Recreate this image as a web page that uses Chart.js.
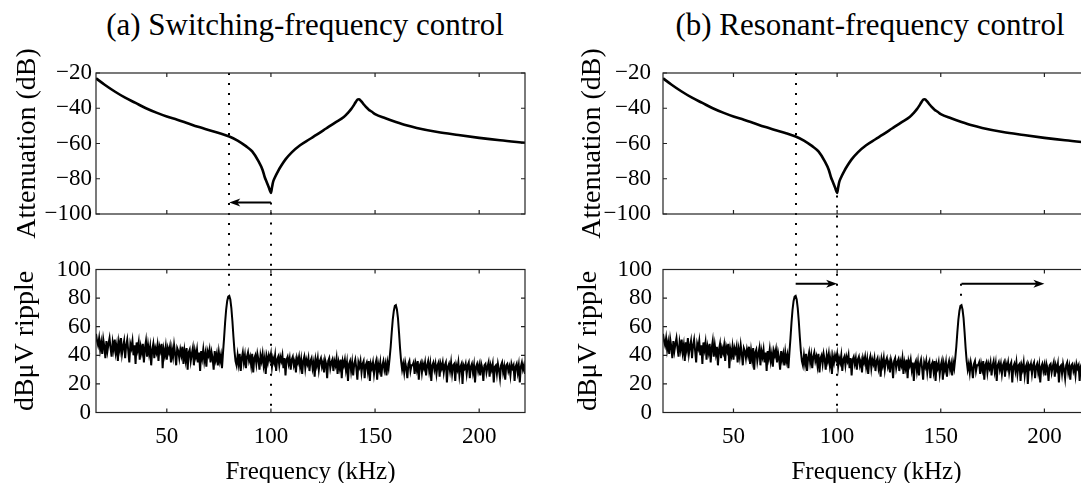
<!DOCTYPE html>
<html>
<head>
<meta charset="utf-8">
<script src="https://cdn.jsdelivr.net/npm/chart.js@4.4.1/dist/chart.umd.min.js"></script>
<style>
html, body { margin: 0; padding: 0; background: #fff; overflow: hidden; width: 1081px; height: 483px; }
.panel-title { position: absolute; top: 7px; font-family: "Liberation Serif", "Times New Roman", serif; font-size: 31px; line-height: 36px; white-space: nowrap; transform: translateX(-50%); color: #000; }
canvas { position: absolute; }
</style>
</head>
<body>
<div class="panel-title" style="left:305px">(a) Switching-frequency control</div>
<div class="panel-title" style="left:870px">(b) Resonant-frequency control</div>
<canvas id="topA" width="540" height="242" style="left:0;top:0"></canvas>
<canvas id="botA" width="540" height="260" style="left:0;top:242px"></canvas>
<canvas id="topB" width="540" height="242" style="left:560px;top:0"></canvas>
<canvas id="botB" width="540" height="260" style="left:560px;top:242px"></canvas>
<script>
// frequency axis (kHz)
var freqMin = 16;
var freqMax = 222;
var freqTicks = [50, 100, 150, 200];

// filter attenuation curve (kHz / dB)
var attenFreq = [16, 20, 25, 30, 35, 40, 45, 50, 55, 60, 65, 70, 75, 80, 84, 88, 91, 94, 96, 97, 98, 99, 99.6, 100,
    100.5, 101, 102, 103.5, 105, 107, 110, 114, 118.5, 122, 126.5, 131, 135, 137, 138.5, 139.5, 140.5, 141.2, 141.8,
    142.3, 142.8, 143.5, 144.5, 145.5, 147, 148.5, 150, 155, 160, 165, 170, 180, 190, 200, 210, 222];
var attenDb = [-23, -26.5, -30.5, -34, -37, -40, -42.5, -44.7, -46.5, -48.5, -50.5, -52.3, -54, -56, -58.3, -61.5, -64.5, -70, -75, -79, -82, -85, -87, -88,
    -85, -82, -79, -75.5, -72.5, -69, -65, -61, -57.6, -55, -51.5, -48, -45, -42.6, -40.5, -38.8, -36.9, -35.6, -35,
    -34.9, -35.3, -36.2, -37.7, -39.1, -40.8, -42, -43.3, -45.7, -47.8, -49.7, -51.2, -53.5, -55.2, -56.8, -58.2, -59.6];
var attenTicks = [-100, -80, -60, -40, -20];
var attenTickLabels = ['\u2212100', '\u221280', '\u221260', '\u221240', '\u221220'];

// measured ripple spectrum, one value every 0.5 kHz from 16 kHz
var rippleStart = 16;
var rippleStep = 0.5;
var rippleDb = [
    55, 50, 47, 52, 44, 49, 41, 51, 46, 38,   // 16
    50, 43, 48, 52, 45, 39, 49, 44, 51, 42,   // 21
    47, 36, 49, 44, 52, 41, 46, 50, 38, 47,   // 26
    51, 43, 35, 48, 45, 50, 40, 47, 34, 49,   // 31
    44, 49, 37, 46, 42, 48, 35, 45, 50, 39,   // 36
    47, 41, 46, 33, 44, 48, 38, 45, 42, 47,   // 41
    36, 46, 43, 48, 31, 44, 40, 46, 37, 45,   // 46
    42, 46, 35, 44, 39, 47, 41, 33, 45, 43,   // 51
    38, 44, 40, 46, 34, 43, 37, 45, 30, 42,   // 56
    44, 36, 41, 45, 33, 43, 39, 44, 35, 42,   // 61
    29, 43, 38, 44, 36, 41, 32, 43, 40, 44,   // 66
    35, 42, 38, 30, 43, 37, 41, 33, 42, 36,   // 71
    40, 31,                                   // 76
    42, 52, 63, 72, 78, 81, 81.5, 79, 73, 64, 53, 43, 36, 33,   // 77 (switching harmonic)
    40, 34, 41, 29, 38, 42, 35, 40, 31, 39,   // 84
    42, 36, 39, 33, 41, 28, 38, 40, 34, 41,   // 89
    37, 30, 40, 36, 41, 33, 38, 27, 39, 35,   // 94
    40, 37, 41, 32, 38, 35, 40, 29, 37, 39,   // 99
    33, 39, 36, 40, 31, 38, 26, 37, 39, 34,   // 104
    38, 30, 37, 39, 33, 36, 28, 38, 35, 39,   // 109
    32, 37, 27, 36, 39, 31, 37, 34, 38, 29,   // 114
    36, 38, 31, 35, 25, 37, 33, 38, 30, 36,   // 119
    38, 32, 35, 28, 37, 34, 24, 36, 38, 31,   // 124
    35, 37, 29, 36, 33, 38, 27, 35, 31, 37,   // 129
    24, 36, 33, 37, 30, 35, 22, 34, 36, 29,   // 134
    35, 26, 34, 37, 31, 23, 35, 32, 36, 28,   // 139
    34, 36, 24, 33, 35, 29, 36, 22, 34, 31,   // 144
    35, 27, 33, 36, 23, 34, 30, 35, 25, 33,   // 149
    36, 30, 34, 26, 35, 31,                   // 154
    38, 46, 56, 65, 71, 74.5, 75, 72, 66, 56, 45, 36, 30,   // 157 (second harmonic)
    34, 28, 35, 31, 24, 34, 36, 29, 33,       // 163.5
    33, 35, 27, 34, 30, 36, 23, 33, 35, 28,   // 168
    34, 31, 35, 26, 33, 36, 29, 34, 22, 33,   // 173
    35, 30, 34, 27, 33, 35, 25, 34, 31, 35,   // 178
    28, 33, 35, 21, 32, 34, 29, 35, 27, 33,   // 183
    34, 22, 33, 30, 35, 26, 32, 34, 20, 33,   // 188
    31, 34, 27, 33, 35, 24, 32, 34, 28, 33,   // 193
    21, 32, 34, 29, 33, 26, 34, 31, 22, 33,   // 198
    34, 28, 32, 35, 25, 33, 30, 34, 21, 32,   // 203
    33, 27, 34, 30, 24, 33, 35, 28, 32, 23,   // 208
    33, 34, 29, 32, 26, 34, 31, 33, 22, 32,   // 213
    34, 28, 33, 21, 32, 35, 30, 33, 27        // 218
];
var rippleTicks = [0, 20, 40, 60, 80, 100];
var rippleTickLabels = ['0', '20', '40', '60', '80', '100'];

// dotted markers and arrows (kHz / axis units)
var guidesTopA = [{x: 80, from: -20, to: -130}, {x: 100, from: -93.5, to: -130}];
var arrowsTopA = [{from: 100, to: 80, y: -93.5}];
var guidesBotA = [{x: 80, from: 125, to: 83}, {x: 100, from: 125, to: 0}];
var arrowsBotA = [];
var guidesTopB = [{x: 80, from: -20, to: -130}, {x: 100, from: -89.5, to: -130}];
var arrowsTopB = [];
var guidesBotB = [{x: 80, from: 125, to: 90}, {x: 100, from: 125, to: 0}, {x: 160, from: 90, to: 76}];
var arrowsBotB = [{from: 80, to: 100, y: 90}, {from: 160, to: 200, y: 90}];

var FONT = '"Liberation Serif", "Times New Roman", serif';
Chart.defaults.font.family = FONT;
Chart.defaults.color = '#000';

var attenPoints = attenFreq.map(function(f, i) { return {x: f, y: attenDb[i]}; });
var ripplePoints = rippleDb.map(function(v, i) { return {x: rippleStart + i * rippleStep, y: v}; });

function framePlugin(guides, arrows) {
    return {
        id: 'frame',
        afterDatasetsDraw: function(chart) {
            var c = chart.ctx;
            var a = chart.chartArea;
            var xs = chart.scales.x;
            var ys = chart.scales.y;
            c.save();
            c.strokeStyle = '#000';
            c.fillStyle = '#000';

            c.lineWidth = 2;
            c.setLineDash([2, 8]);
            guides.forEach(function(g) {
                var px = Math.round(xs.getPixelForValue(g.x));
                c.beginPath();
                c.moveTo(px, ys.getPixelForValue(g.from));
                c.lineTo(px, ys.getPixelForValue(g.to));
                c.stroke();
            });
            c.setLineDash([]);

            arrows.forEach(function(ar) {
                var x0 = xs.getPixelForValue(ar.from);
                var x1 = xs.getPixelForValue(ar.to);
                var py = ys.getPixelForValue(ar.y);
                var dir = x1 > x0 ? 1 : -1;
                c.lineWidth = 2;
                c.beginPath();
                c.moveTo(x0, py);
                c.lineTo(x1 - dir * 7, py);
                c.stroke();
                c.beginPath();
                c.moveTo(x1, py);
                c.lineTo(x1 - dir * 11, py - 4);
                c.lineTo(x1 - dir * 8, py);
                c.lineTo(x1 - dir * 11, py + 4);
                c.closePath();
                c.fill();
            });

            c.lineWidth = 1.2;
            c.strokeStyle = '#222';
            c.strokeRect(a.left, a.top, a.width, a.height);
            c.beginPath();
            freqTicks.forEach(function(v) {
                var px = xs.getPixelForValue(v);
                c.moveTo(px, a.top); c.lineTo(px, a.top + 4);
                c.moveTo(px, a.bottom); c.lineTo(px, a.bottom - 4);
            });
            ys.ticks.forEach(function(t) {
                var py = ys.getPixelForValue(t.value);
                c.moveTo(a.left, py); c.lineTo(a.left + 4, py);
                c.moveTo(a.right, py); c.lineTo(a.right - 4, py);
            });
            c.stroke();
            c.restore();
        }
    };
}

function makeChart(id, cfg) {
    return new Chart(document.getElementById(id), {
        type: 'line',
        data: {
            datasets: [{
                data: cfg.points,
                borderColor: '#000',
                borderWidth: cfg.lineWidth,
                pointRadius: 0,
                tension: 0,
                cubicInterpolationMode: cfg.smooth ? 'monotone' : 'default',
                fill: false
            }]
        },
        options: {
            responsive: false,
            animation: false,
            events: [],
            layout: { padding: cfg.padding },
            plugins: { legend: { display: false }, tooltip: { enabled: false } },
            scales: {
                x: {
                    type: 'linear',
                    min: freqMin,
                    max: freqMax,
                    display: cfg.showX,
                    afterBuildTicks: function(s) { s.ticks = freqTicks.map(function(v) { return {value: v}; }); },
                    afterFit: function(s) { if (cfg.xHeight) { s.height = cfg.xHeight; } },
                    grid: { display: false, drawTicks: false },
                    border: { display: false },
                    ticks: { padding: cfg.xTickPad, font: { size: 23 }, maxRotation: 0, autoSkip: false },
                    title: { display: cfg.showX, text: 'Frequency (kHz)', font: { size: 25 }, padding: { top: 0, bottom: cfg.xTitlePad } }
                },
                y: {
                    type: 'linear',
                    min: cfg.yTicks[0],
                    max: cfg.yTicks[cfg.yTicks.length - 1],
                    afterBuildTicks: function(s) { s.ticks = cfg.yTicks.map(function(v) { return {value: v}; }); },
                    afterFit: function(s) { s.width = cfg.yWidth; },
                    grid: { display: false, drawTicks: false },
                    border: { display: false },
                    ticks: {
                        padding: cfg.yTickPad,
                        font: { size: 23 },
                        autoSkip: false,
                        callback: function(v) { return cfg.yLabels[cfg.yTicks.indexOf(v)]; }
                    },
                    title: { display: true, text: cfg.yTitle, font: { size: 28 }, padding: { top: cfg.yTitlePad, bottom: 0 } }
                }
            }
        },
        plugins: [framePlugin(cfg.guides, cfg.arrows)]
    });
}

var topBase = { points: attenPoints, lineWidth: 2.6, smooth: true, showX: false, yTicks: attenTicks, yLabels: attenTickLabels, yTitle: 'Attenuation (dB)' };
var botBase = { points: ripplePoints, lineWidth: 2, smooth: false, showX: true, xHeight: 89.5, xTickPad: 11, xTitlePad: 15, yTicks: rippleTicks, yLabels: rippleTickLabels, yTitle: 'dB\u03bcV ripple' };

makeChart('topA', Object.assign({}, topBase, { padding: {top: 73, right: 15, bottom: 28, left: 0}, yWidth: 96, yTickPad: 4, yTitlePad: 11, guides: guidesTopA, arrows: arrowsTopA }));
makeChart('botA', Object.assign({}, botBase, { padding: {top: 27.5, right: 15, bottom: 0, left: 0}, yWidth: 96, yTickPad: 5, yTitlePad: 9, guides: guidesBotA, arrows: arrowsBotA }));
makeChart('topB', Object.assign({}, topBase, { padding: {top: 73, right: 10, bottom: 28, left: 0}, yWidth: 103, yTickPad: 12, yTitlePad: 16, guides: guidesTopB, arrows: arrowsTopB }));
makeChart('botB', Object.assign({}, botBase, { padding: {top: 27.5, right: 10, bottom: 0, left: 0}, yWidth: 103, yTickPad: 11, yTitlePad: 12, guides: guidesBotB, arrows: arrowsBotB }));
</script>
</body>
</html>
